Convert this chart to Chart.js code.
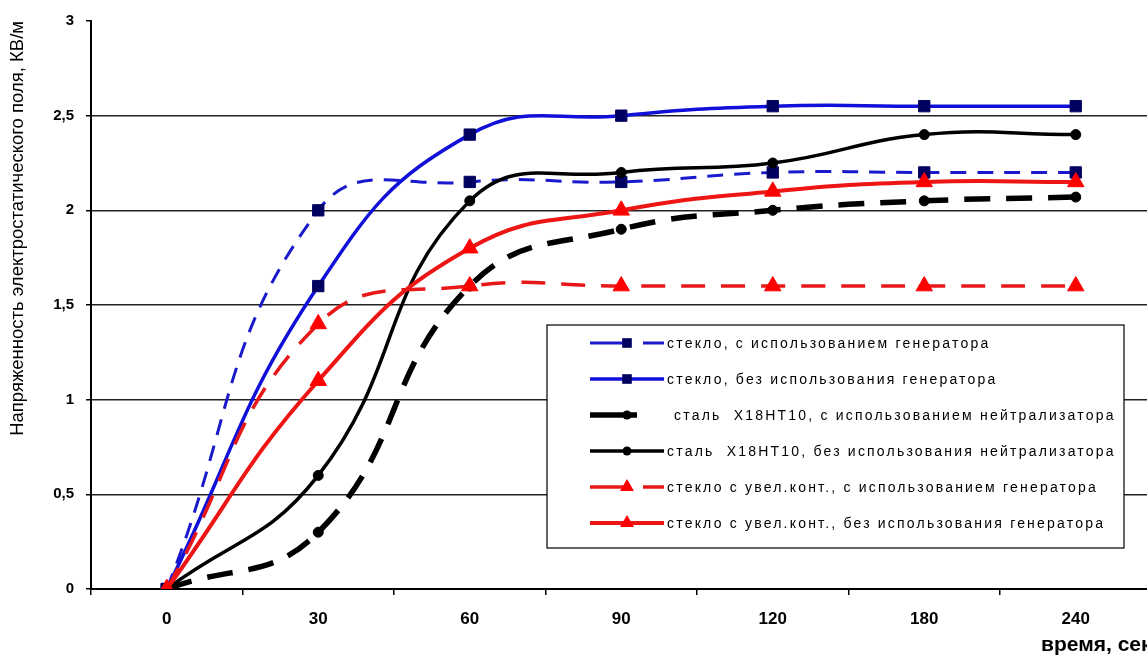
<!DOCTYPE html>
<html>
<head>
<meta charset="utf-8">
<script src="https://cdn.jsdelivr.net/npm/chart.js@4.4.1/dist/chart.umd.min.js"></script>
<style>
  html, body { margin: 0; padding: 0; background: #fff; overflow: hidden; }
  #wrap { width: 1162px; height: 662px; }
</style>
</head>
<body>
<div id="wrap"><canvas id="c" width="1162" height="662"></canvas></div>
<script>
// ---- data ----
const categories = ['0', '30', '60', '90', '120', '180', '240'];
const yTicks = [0, 0.5, 1, 1.5, 2, 2.5, 3];
const labels = [
  'стекло, с использованием генератора',
  'стекло, без использования генератора',
  'сталь  Х18НТ10, с использованием нейтрализатора',
  'сталь  Х18НТ10, без использования нейтрализатора',
  'стекло с увел.конт., с использованием генератора',
  'стекло с увел.конт., без использования генератора'
];
const glassWithGen    = [0, 2.0, 2.15, 2.15, 2.2, 2.2, 2.2];
const glassNoGen      = [0, 1.6, 2.4, 2.5, 2.55, 2.55, 2.55];
const steelWithNeutr  = [0, 0.3, 1.6, 1.9, 2.0, 2.05, 2.07];
const steelNoNeutr    = [0, 0.6, 2.05, 2.2, 2.25, 2.4, 2.4];
const glassIncWithGen = [0, 1.4, 1.6, 1.6, 1.6, 1.6, 1.6];
const glassIncNoGen   = [0, 1.1, 1.8, 2.0, 2.1, 2.15, 2.15];
const xTitle = 'время, сек';
const yTitle = 'Напряженность электростатического поля, КВ/м';

const seriesValues = [glassWithGen, glassNoGen, steelWithNeutr, steelNoNeutr, glassIncWithGen, glassIncNoGen];

const styles = [
  { color: '#1a1acc', width: 3,   dash: [16, 11], point: 'rect',     pr: 8,   pc: '#000060' },
  { color: '#1010d8', width: 3.5, dash: [],       point: 'rect',     pr: 8,   pc: '#000060' },
  { color: '#000000', width: 5.5, dash: [26, 16], point: 'circle',   pr: 5,   pc: '#000000' },
  { color: '#000000', width: 3.5, dash: [],       point: 'circle',   pr: 5,   pc: '#000000' },
  { color: '#e81818', width: 3.5, dash: [24, 16], point: 'triangle', pr: 9.5, pc: '#ff0000' },
  { color: '#ee1515', width: 4,   dash: [],       point: 'triangle', pr: 9.5, pc: '#ff0000' }
];

const datasets = seriesValues.map((vals, i) => ({
  label: labels[i],
  data: vals,
  borderColor: styles[i].color,
  borderWidth: styles[i].width,
  borderDash: styles[i].dash,
  pointStyle: styles[i].point,
  pointRadius: styles[i].pr,
  pointBackgroundColor: styles[i].pc,
  pointBorderColor: styles[i].pc,
  pointBorderWidth: 1,
  tension: 0.45,
  fill: false,
  order: 5 - i
}));

// custom in-plot legend
const boxLegend = {
  id: 'boxLegend',
  afterDraw(chart) {
    const ctx = chart.ctx;
    const x0 = 547, y0 = 325, w = 577, h = 223;
    ctx.save();
    ctx.fillStyle = '#fff';
    ctx.fillRect(x0, y0, w, h);
    ctx.strokeStyle = '#000';
    ctx.lineWidth = 1.2;
    ctx.strokeRect(x0, y0, w, h);
    const rowH = 36;
    const firstY = y0 + 18;
    chart.data.datasets.forEach((ds, i) => {
      const y = firstY + i * rowH;
      const sx1 = 590, sx2 = 664, mx = 627;
      ctx.strokeStyle = ds.borderColor;
      ctx.lineWidth = ds.borderWidth;
      ctx.setLineDash([]);
      ctx.beginPath();
      if (ds.borderDash.length) {
        if (i === 2) {
          ctx.moveTo(sx1, y); ctx.lineTo(637, y);
        } else {
          ctx.moveTo(sx1, y); ctx.lineTo(mx, y);
          ctx.moveTo(643, y); ctx.lineTo(sx2, y);
        }
      } else {
        ctx.moveTo(sx1, y); ctx.lineTo(sx2, y);
      }
      ctx.stroke();
      // marker
      ctx.fillStyle = ds.pointBackgroundColor;
      const r = ds.pointRadius;
      ctx.beginPath();
      if (ds.pointStyle === 'rect') {
        const s = r * Math.SQRT1_2 * 0.85;
        ctx.rect(mx - s, y - s, 2 * s, 2 * s);
      } else if (ds.pointStyle === 'circle') {
        ctx.arc(mx, y, r * 0.9, 0, Math.PI * 2);
      } else {
        const rr = r * 0.85;
        ctx.moveTo(mx, y - rr);
        ctx.lineTo(mx + rr * 0.866, y + rr * 0.5);
        ctx.lineTo(mx - rr * 0.866, y + rr * 0.5);
        ctx.closePath();
      }
      ctx.fill();
      // text
      ctx.fillStyle = '#000';
      ctx.font = '14px "Liberation Sans", Arial, sans-serif';
      if ('letterSpacing' in ctx) ctx.letterSpacing = '2.2px';
      ctx.textBaseline = 'middle';
      ctx.textAlign = 'left';
      ctx.fillText(ds.label, i === 2 ? 674 : 667, y + 1);
      if ('letterSpacing' in ctx) ctx.letterSpacing = '0px';
    });
    ctx.restore();
  }
};

new Chart(document.getElementById('c'), {
  type: 'line',
  data: { labels: categories, datasets },
  plugins: [boxLegend],
  options: {
    responsive: false,
    animation: false,
    layout: { padding: { top: 19, right: 0, bottom: 0, left: 0 } },
    plugins: { legend: { display: false }, tooltip: { enabled: false } },
    scales: {
      x: {
        type: 'category',
        offset: true,
        grid: { display: true, drawOnChartArea: false, offset: true, tickLength: 6, color: '#000', lineWidth: 1.5 },
        border: { display: true, color: '#000', width: 2 },
        ticks: { color: '#000', padding: 14, font: { family: '"Liberation Sans", Arial', size: 17, weight: 'bold' } },
        title: { display: true, text: xTitle, align: 'end', color: '#000', padding: { top: 4, bottom: 4 },
                 font: { family: '"Liberation Sans", Arial', size: 21, weight: 'bold' } },
        afterFit(scale) { scale.height = 73; }
      },
      y: {
        min: 0, max: 3,
        afterBuildTicks(scale) { scale.ticks = yTicks.map(v => ({ value: v })); },
        grid: {
          color: ctx => (ctx.tick && ctx.tick.value === 3) ? 'rgba(0,0,0,0)' : '#222',
          tickColor: '#000',
          lineWidth: 1.5,
          tickLength: 5
        },
        border: { display: true, color: '#000', width: 2 },
        ticks: {
          color: '#000', padding: 12,
          font: { family: '"Liberation Sans", Arial', size: 15, weight: 'bold' },
          callback: v => String(v).replace('.', ',')
        },
        title: { display: true, text: yTitle, align: 'end', color: '#000', padding: { top: 7, bottom: 0 },
                 font: { family: '"Liberation Sans", Arial', size: 18.5 } },
        afterFit(scale) { scale.width = 91; }
      }
    }
  }
});
</script>
</body>
</html>
